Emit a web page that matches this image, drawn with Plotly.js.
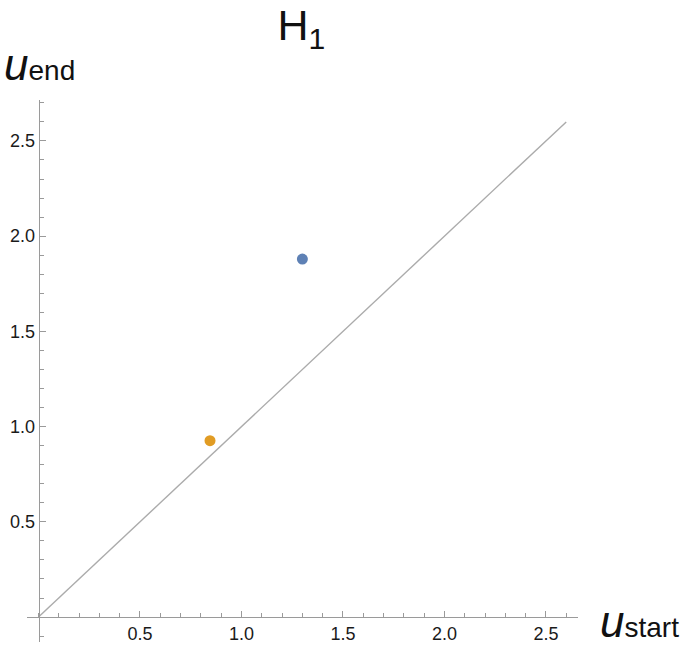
<!DOCTYPE html>
<html>
<head>
<meta charset="utf-8">
<script src="https://cdn.plot.ly/plotly-3.0.1.min.js"></script>
<style>html,body{margin:0;padding:0;background:#fff;}#chart{width:685px;height:645px;}</style>
</head>
<body>
<div id="chart"></div>
<script>
// Data
const pointNames = ["H1 class A", "H1 class B"];
const uStart = [1.30, 0.845];
const uEnd = [1.88, 0.926];
const pointColors = ["#5E81B5", "#E19C24"];
const diagX = [0, 2.6];
const diagY = [0, 2.6];
const tickVals = [0.5, 1.0, 1.5, 2.0, 2.5];
const tickText = ["0.5", "1.0", "1.5", "2.0", "2.5"];

const xRange = [-0.0567, 2.658];
const yRange = [-0.131, 2.715];

const traces = [
  {x: diagX, y: diagY, mode: "lines", line: {color: "#ababab", width: 1.4}, hoverinfo: "skip", showlegend: false},
  {x: [uStart[0]], y: [uEnd[0]], mode: "markers", name: pointNames[0], marker: {color: pointColors[0], size: 11}, showlegend: false},
  {x: [uStart[1]], y: [uEnd[1]], mode: "markers", name: pointNames[1], marker: {color: pointColors[1], size: 11}, showlegend: false}
];

const axisCommon = {
  showgrid: false, zeroline: false, showline: true, linecolor: "#9a9a9a", linewidth: 1.3,
  ticks: "inside", ticklen: 6, tickwidth: 1, tickcolor: "#9a9a9a",
  tickmode: "array", tickvals: tickVals, ticktext: tickText,
  tickfont: {family: "Liberation Sans, Arial, sans-serif", size: 18, color: "#1a1a1a"},
  minor: {dtick: 0.1, tick0: 0, ticks: "inside", ticklen: 4, tickcolor: "#9a9a9a", tickwidth: 1, showgrid: false},
  anchor: "free", fixedrange: true
};

const layout = {
  width: 685, height: 645,
  margin: {l: 27, r: 107, t: 100, b: 3},
  paper_bgcolor: "#fff", plot_bgcolor: "#fff",
  title: {text: "H<sub>1</sub>", x: 0.44, xanchor: "center", y: 0.985, yanchor: "top",
          font: {family: "Liberation Sans, Arial, sans-serif", size: 43, color: "#111"}},
  xaxis: Object.assign({}, axisCommon, {range: xRange, side: "bottom",
          position: (0 - yRange[0]) / (yRange[1] - yRange[0])}),
  yaxis: Object.assign({}, axisCommon, {range: yRange, side: "left",
          position: (0 - xRange[0]) / (xRange[1] - xRange[0])}),
  annotations: [
    {xref: "paper", yref: "paper", x: 1.036, y: 0.037, xanchor: "left", yanchor: "middle", showarrow: false,
     text: '<i>u</i><span style="font-size:28px">start</span>',
     font: {family: "Liberation Sans, Arial, sans-serif", size: 44, color: "#111"}},
    {xref: "paper", yref: "paper", x: -0.046, y: 1.017, xanchor: "left", yanchor: "bottom", showarrow: false,
     text: '<i>u</i><span style="font-size:28px">end</span>',
     font: {family: "Liberation Sans, Arial, sans-serif", size: 44, color: "#111"}}
  ],
  showlegend: false
};

Plotly.newPlot("chart", traces, layout, {staticPlot: true, displayModeBar: false});
</script>
</body>
</html>
